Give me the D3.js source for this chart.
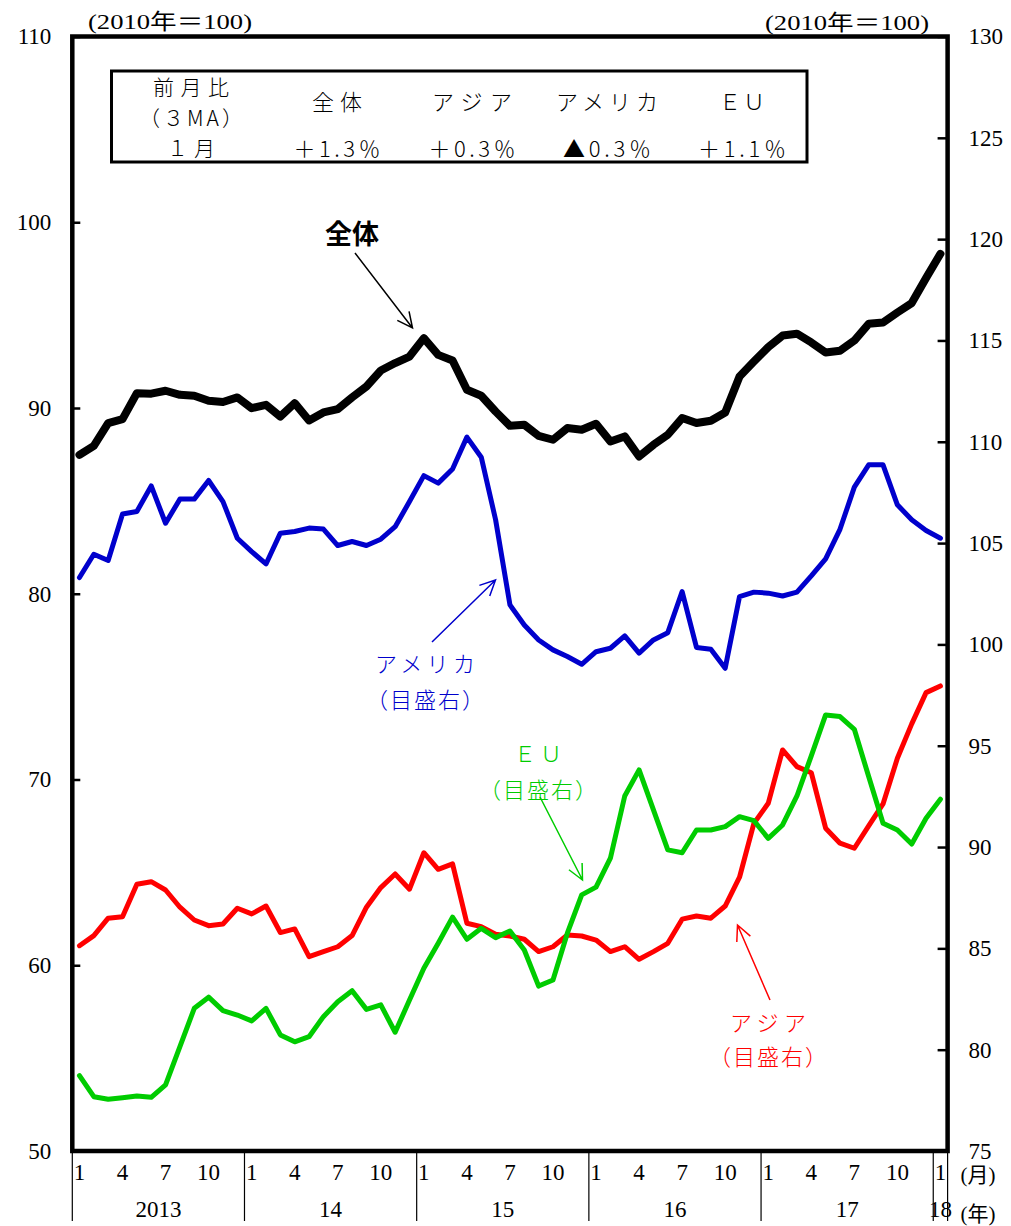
<!DOCTYPE html>
<html>
<head>
<meta charset="utf-8">
<script src="https://cdn.jsdelivr.net/npm/d3@7/dist/d3.min.js"></script>
<style>
body { margin: 0; background: #fff; }
svg text { font-family: "Liberation Serif", "Noto Sans CJK JP", serif; fill: #000; }
</style>
</head>
<body>
<svg id="chart"></svg>
<script>
// months Jan 2013 .. Jan 2018
const yearLabels = ["2013", "14", "15", "16", "17", "18"]
const monthTicks = [1, 4, 7, 10]
const months = d3.range(61).map(i => i % 12 + 1)

// left axis (2010=100)
const total = [87.48, 87.96, 89.19, 89.40, 90.80, 90.77, 90.93, 90.71, 90.66, 90.39, 90.32, 90.57,
  89.99, 90.17, 89.54, 90.26, 89.33, 89.76, 89.94, 90.57, 91.16, 92.02, 92.42, 92.77,
  93.76, 92.86, 92.56, 90.98, 90.66, 89.81, 89.04, 89.10, 88.50, 88.29, 88.92, 88.83,
  89.15, 88.20, 88.47, 87.39, 88.02, 88.56, 89.46, 89.19, 89.31, 89.76, 91.70, 92.50,
  93.28, 93.90, 94.00, 93.53, 92.99, 93.08, 93.63, 94.53, 94.60, 95.14, 95.65, 97.00,
  98.30]

// right axis
const america = [103.30, 104.45, 104.14, 106.44, 106.56, 107.82, 105.98, 107.17, 107.17, 108.09, 107.05, 105.24,
  104.58, 103.97, 105.49, 105.57, 105.74, 105.69, 104.88, 105.08, 104.88, 105.19, 105.81, 107.05,
  108.33, 107.96, 108.66, 110.23, 109.24, 106.15, 101.95, 100.96, 100.22, 99.73, 99.40, 99.02,
  99.64, 99.81, 100.42, 99.57, 100.22, 100.58, 102.61, 99.85, 99.76, 98.82, 102.36, 102.58,
  102.53, 102.39, 102.58, 103.38, 104.22, 105.68, 107.76, 108.86, 108.86, 106.89, 106.15, 105.62,
  105.24]

const asia = [85.13, 85.63, 86.49, 86.56, 88.16, 88.29, 87.88, 87.03, 86.40, 86.12, 86.20, 86.98,
  86.70, 87.09, 85.78, 85.96, 84.59, 84.84, 85.08, 85.63, 87.03, 88.00, 88.67, 87.92,
  89.72, 88.90, 89.17, 86.24, 86.07, 85.70, 85.61, 85.45, 84.84, 85.08, 85.66, 85.61,
  85.41, 84.84, 85.08, 84.46, 84.84, 85.25, 86.44, 86.60, 86.49, 87.09, 88.51, 91.17,
  92.16, 94.79, 93.97, 93.67, 90.93, 90.19, 89.94, 91.04, 92.13, 94.38, 96.08, 97.62,
  97.95]

const eu = [78.72, 77.68, 77.55, 77.63, 77.71, 77.65, 78.26, 80.15, 82.04, 82.59, 81.93, 81.71,
  81.42, 82.04, 80.73, 80.39, 80.64, 81.63, 82.37, 82.91, 81.99, 82.21, 80.86, 82.45,
  84.02, 85.25, 86.54, 85.45, 85.99, 85.53, 85.86, 84.92, 83.14, 83.44, 85.75, 87.64,
  88.02, 89.45, 92.52, 93.81, 91.83, 89.86, 89.72, 90.84, 90.84, 91.01, 91.50, 91.30,
  90.43, 91.09, 92.52, 94.50, 96.52, 96.44, 95.81, 93.48, 91.17, 90.84, 90.15, 91.42,
  92.36]

const leftTicks = [50, 60, 70, 80, 90, 100, 110]
const rightTicks = [75, 80, 85, 90, 95, 100, 105, 110, 115, 120, 125, 130]

const tableHeads = ["全体", "アジア", "アメリカ", "ＥＵ"]
const tableValues = ["＋1.3％", "＋0.3％", "▲0.3％", "＋1.1％"]

let width = 1011
let height = 1226
let plotL = 72.3, plotR = 947.6, plotT = 36.5, plotB = 1151
let serif = "'Liberation Serif', 'Noto Sans CJK JP', serif"
let jp = "'Noto Sans CJK JP', sans-serif"

let svg = d3.select("#chart").attr("width", width).attr("height", height)

let x = d3.scaleBand().domain(d3.range(61)).range([plotL, plotR])
let bw = x.bandwidth()
let yL = d3.scaleLinear().domain([50, 110]).range([plotB, plotT])
let yR = d3.scaleLinear().domain([75, 130]).range([plotB, plotT])

// axes
let leftAxis = d3.axisLeft(yL).tickValues(leftTicks).tickSize(-8).tickPadding(21)
let rightAxis = d3.axisRight(yR).tickValues(rightTicks).tickSize(-10).tickPadding(21)

let gl = svg.append("g").attr("transform", `translate(${plotL},0)`).call(leftAxis)
let gr = svg.append("g").attr("transform", `translate(${plotR},0)`).call(rightAxis)
;[gl, gr].forEach(g => {
  g.attr("font-family", serif).attr("font-size", 23)
  g.select(".domain").remove()
  g.selectAll(".tick line").attr("stroke", "#000").attr("stroke-width", 2.5)
  g.selectAll(".tick text").attr("fill", "#000")
    .style("font-family", serif).style("font-size", "23px")
})

let monthAxis = d3.axisBottom(x)
  .tickValues(d3.range(61).filter(i => monthTicks.includes(months[i])))
  .tickFormat(i => months[i])
  .tickSize(0).tickPadding(13)
let gm = svg.append("g").attr("transform", `translate(0,${plotB})`).call(monthAxis)
gm.attr("font-family", serif).attr("font-size", 23)
gm.select(".domain").remove()
gm.selectAll(".tick text").attr("fill", "#000")
  .style("font-family", serif).style("font-size", "23px")

// year separators
let sepX = d3.range(0, 61, 12).map(i => x(i)).concat([plotR])
svg.selectAll(".sep").data(sepX).enter().append("line")
  .attr("x1", d => d).attr("x2", d => d)
  .attr("y1", plotB).attr("y2", 1221)
  .attr("stroke", "#000").attr("stroke-width", 1.2)

svg.selectAll(".yr").data(yearLabels).enter().append("text")
  .attr("x", (d, k) => k === 5 ? x(60) + bw / 2 : (x(k * 12) + x(k * 12 + 11) + bw) / 2)
  .attr("y", 1217)
  .attr("text-anchor", "middle")
  .style("font-size", "23px").style("font-family", serif)
  .text(d => d)

svg.append("text").attr("x", 978).attr("y", 1182).attr("text-anchor", "middle")
  .style("font-size", "21px").text("(月)")
svg.append("text").attr("x", 978).attr("y", 1221).attr("text-anchor", "middle")
  .style("font-size", "21px").text("(年)")

// units
svg.append("text").attr("x", 88).attr("y", 29)
  .attr("textLength", 164).attr("lengthAdjust", "spacingAndGlyphs")
  .style("font-size", "22px").text("(2010年＝100)")
svg.append("text").attr("x", 765).attr("y", 30)
  .attr("textLength", 164).attr("lengthAdjust", "spacingAndGlyphs")
  .style("font-size", "22px").text("(2010年＝100)")

// series
let cx = i => x(i) + bw / 2
let lineL = d3.line().x((d, i) => cx(i)).y(d => yL(d))
let lineR = d3.line().x((d, i) => cx(i)).y(d => yR(d))

let series = [
  {values: asia, color: "#ff0000", line: lineR, w: 5},
  {values: eu, color: "#00cc00", line: lineR, w: 5},
  {values: america, color: "#0000cc", line: lineR, w: 5},
  {values: total, color: "#000000", line: lineL, w: 8}
]
series.forEach(s => {
  svg.append("path").attr("d", s.line(s.values))
    .attr("fill", "none").attr("stroke", s.color)
    .attr("stroke-width", s.w).attr("stroke-linejoin", "round").attr("stroke-linecap", "round")
})

// frame
svg.append("rect").attr("x", plotL).attr("y", plotT)
  .attr("width", plotR - plotL).attr("height", plotB - plotT)
  .attr("fill", "none").attr("stroke", "#000").attr("stroke-width", 4.5)

// table box
let tb = svg.append("g")
tb.append("rect").attr("x", 111.5).attr("y", 71).attr("width", 695.5).attr("height", 91)
  .attr("fill", "#fff").attr("stroke", "#000").attr("stroke-width", 3)
let tt = (t, xx, yy, size, len) => {
  let el = tb.append("text").attr("x", xx).attr("y", yy)
    .attr("text-anchor", "middle").attr("dominant-baseline", "central")
    .style("font-size", size + "px").style("font-family", jp).style("font-weight", 300).text(t)
  if (len) el.attr("textLength", len).attr("lengthAdjust", "spacing")
  return el
}
tt("前月比", 191, 86, 21, 76)
tt("（３MA）", 191, 116.5, 21, 104)
tt("１月", 191, 147, 21, 48)
let colX = [337, 472, 607, 742]
let headLen = [50, 80, 102, 46]
let valLen = [87, 87, 88, 88]
tableHeads.forEach((h, k) => tt(h, colX[k], 100, 22, headLen[k]))
tableValues.forEach((v, k) => tt(v, colX[k], 147, 22, valLen[k]))

// annotations
let arrow = (x1, y1, x2, y2, color, w) => {
  let a = Math.atan2(y2 - y1, x2 - x1), L = 17, sp = 0.45
  let p = `M${x1},${y1}L${x2},${y2}` +
    `M${x2 - L * Math.cos(a - sp)},${y2 - L * Math.sin(a - sp)}L${x2},${y2}` +
    `L${x2 - L * Math.cos(a + sp)},${y2 - L * Math.sin(a + sp)}`
  svg.append("path").attr("d", p).attr("fill", "none").attr("stroke", color).attr("stroke-width", w)
}
let note = (t, xx, yy, color, size, weight, len) => {
  let el = svg.append("text").attr("x", xx).attr("y", yy)
    .attr("text-anchor", "middle").attr("dominant-baseline", "central")
    .style("font-size", size + "px").style("font-family", jp).style("font-weight", weight || 300)
    .attr("fill", color).style("fill", color).text(t)
  if (len) el.attr("textLength", len).attr("lengthAdjust", "spacing")
}

note("全体", 352, 232, "#000", 27, 700)
arrow(355, 253, 412.5, 328, "#000", 1.5)

note("アメリカ", 425, 662, "#0000cc", 22, 300, 100)
note("（目盛右）", 425, 698, "#0000cc", 22, 300, 118)
arrow(432, 642, 495.5, 580, "#0000cc", 1.5)

note("ＥＵ", 538, 752, "#00cc00", 22, 300, 48)
note("（目盛右）", 538, 788, "#00cc00", 22, 300, 118)
arrow(540, 797, 582.5, 880, "#00cc00", 1.5)

note("アジア", 768, 1021, "#ff0000", 22, 300, 76)
note("（目盛右）", 768, 1055, "#ff0000", 22, 300, 118)
arrow(770, 1000, 737.5, 925, "#ff0000", 1.5)
</script>
</body>
</html>
